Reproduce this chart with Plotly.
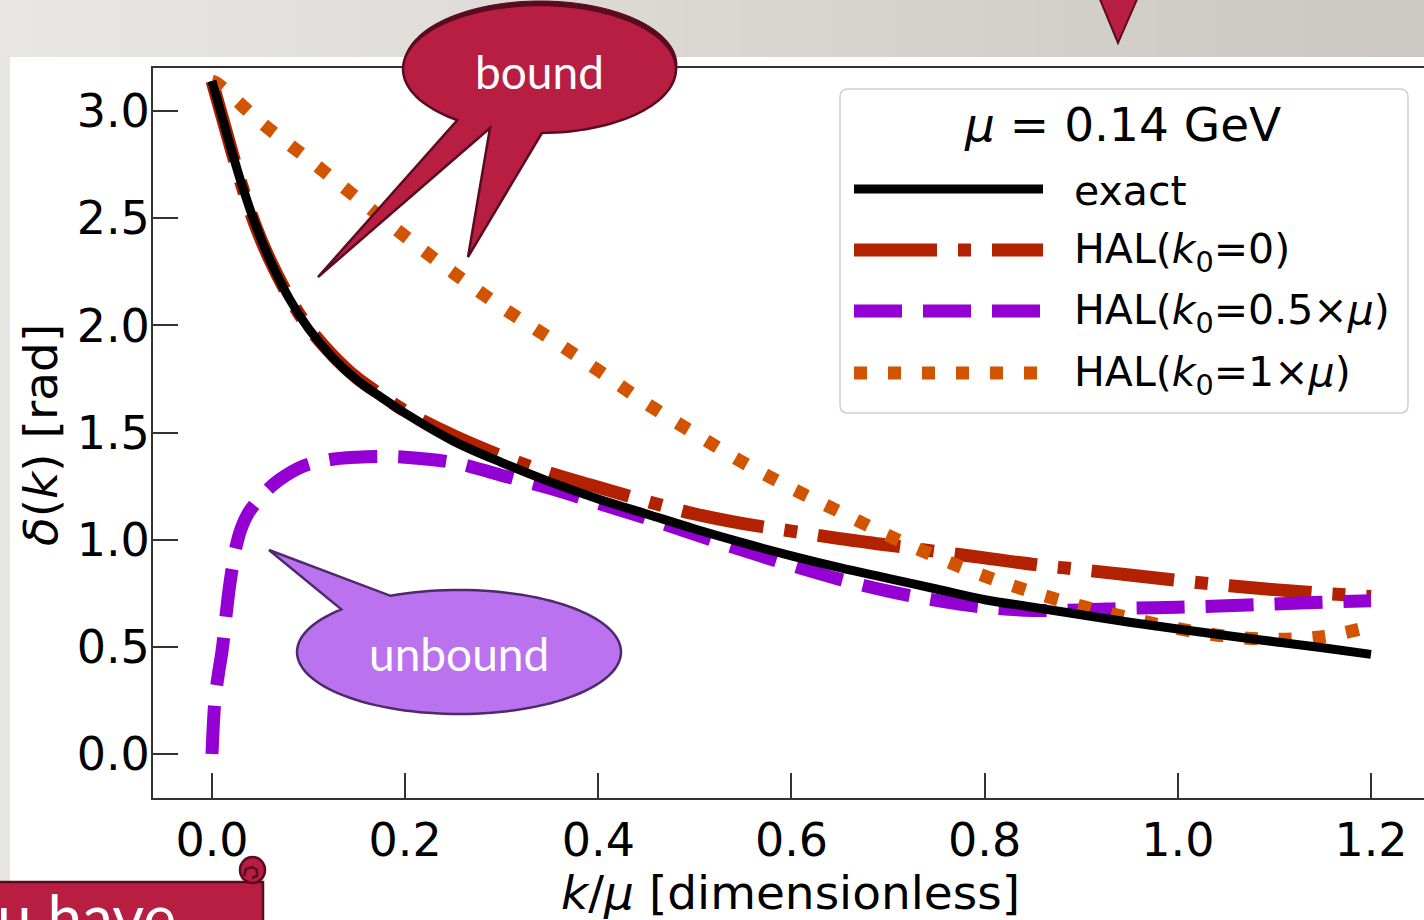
import numpy as np
import plotly.graph_objects as go

# ---------------------------------------------------------------
# Phase shift delta(k) [rad] versus k/mu, mu = 0.14 GeV
# ---------------------------------------------------------------
k_exact = [0, 0.005, 0.01, 0.02, 0.03, 0.045, 0.06, 0.08, 0.1, 0.125, 0.15, 0.175, 0.2,
           0.25, 0.3, 0.35, 0.4, 0.45, 0.5, 0.55, 0.6, 0.65, 0.7, 0.75, 0.8, 0.85, 0.9,
           0.95, 1.0, 1.05, 1.1, 1.15, 1.2]
delta_exact = [3.14, 3.06, 2.98, 2.82, 2.67, 2.47, 2.305, 2.125, 1.985, 1.85, 1.745, 1.665,
               1.59, 1.46, 1.36, 1.27, 1.19, 1.12, 1.05, 0.985, 0.925, 0.87, 0.82, 0.77, 0.72,
               0.685, 0.65, 0.615, 0.583, 0.553, 0.524, 0.496, 0.465]

k_hal0 = k_exact
delta_hal0 = [3.14, 3.06, 2.98, 2.82, 2.665, 2.465, 2.305, 2.13, 1.99, 1.86, 1.755, 1.675,
              1.60, 1.485, 1.39, 1.31, 1.245, 1.18, 1.12, 1.075, 1.04, 1.005, 0.975, 0.945,
              0.915, 0.885, 0.86, 0.835, 0.81, 0.787, 0.767, 0.75, 0.735]

k_hal05 = [0, 0.003, 0.0065, 0.0105, 0.014, 0.0176, 0.0212, 0.0248, 0.03, 0.037, 0.045, 0.058,
           0.07, 0.093, 0.12, 0.15, 0.175, 0.2, 0.25, 0.3, 0.35, 0.4, 0.45, 0.5, 0.55, 0.6,
           0.65, 0.7, 0.75, 0.8, 0.85, 0.9, 0.95, 1.0, 1.05, 1.1, 1.15, 1.2]
delta_hal05 = [0.0, 0.25, 0.37, 0.485, 0.625, 0.765, 0.875, 0.965, 1.05, 1.12, 1.17, 1.235,
               1.28, 1.34, 1.372, 1.385, 1.388, 1.385, 1.36, 1.30, 1.24, 1.17, 1.10, 1.025,
               0.95, 0.88, 0.815, 0.76, 0.717, 0.685, 0.67, 0.672, 0.68, 0.685, 0.692, 0.70,
               0.708, 0.715]

k_hal1 = [0, 0.005, 0.05, 0.1, 0.15, 0.2, 0.25, 0.3, 0.35, 0.4, 0.45, 0.5, 0.55, 0.6, 0.65,
          0.7, 0.75, 0.8, 0.85, 0.9, 0.95, 1.0, 1.05, 1.1, 1.15, 1.2]
delta_hal1 = [3.14, 3.13, 2.95, 2.775, 2.595, 2.415, 2.245, 2.085, 1.94, 1.79, 1.635, 1.495,
              1.36, 1.24, 1.13, 1.02, 0.92, 0.83, 0.755, 0.69, 0.635, 0.585, 0.55, 0.535,
              0.548, 0.595]

x_ticks = [0.0, 0.2, 0.4, 0.6, 0.8, 1.0, 1.2]
y_ticks = [0.0, 0.5, 1.0, 1.5, 2.0, 2.5, 3.0]

legend_title = "<i>μ</i> = 0.14 GeV"
series_names = ["exact", "HAL(<i>k</i><sub>0</sub>=0)",
                "HAL(<i>k</i><sub>0</sub>=0.5×<i>μ</i>)", "HAL(<i>k</i><sub>0</sub>=1×<i>μ</i>)"]

# ---------------------------------------------------------------
# Styles
# ---------------------------------------------------------------
C_BLACK = "#000000"
C_RED = "#B22200"
C_PURPLE = "#9400D3"
C_ORANGE = "#D35400"
DASH_DOT = "83px,21px,13px,21px"
DASH = "48px,21px"
DOT = "13px,21px"

CRIMSON = "#B71E42"
CRIMSON_DARK = "#5B0B1F"
LAVENDER = "#BB72EE"
LAVENDER_DARK = "#4D2A6B"

W, H = 1424, 920
ML, MR, MT, MB = 153, 0, 68, 122
PW, PH = W - ML - MR, H - MT - MB


def px(x):
    return (x - ML) / PW


def py(y):
    return (H - MB - y) / PH


def path_from(points, close=True):
    d = "M" + " L".join(f"{px(x):.5f},{py(y):.5f}" for x, y in points)
    return d + (" Z" if close else "")


def ellipse_arc(cx, cy, rx, ry, a0, a1, n=120):
    t = np.radians(np.linspace(a0, a1, n))
    return list(zip(cx + rx * np.cos(t), cy + ry * np.sin(t)))


fig = go.Figure()

# curves (exact drawn last so it sits on top)
fig.add_trace(go.Scatter(x=k_hal0, y=delta_hal0, mode="lines", line_shape="spline",
                         line=dict(color=C_RED, width=13, dash=DASH_DOT), showlegend=False))
fig.add_trace(go.Scatter(x=k_hal05, y=delta_hal05, mode="lines", line_shape="spline",
                         line=dict(color=C_PURPLE, width=13, dash=DASH), showlegend=False))
fig.add_trace(go.Scatter(x=k_hal1, y=delta_hal1, mode="lines", line_shape="spline",
                         line=dict(color=C_ORANGE, width=13, dash=DOT), showlegend=False))
fig.add_trace(go.Scatter(x=k_exact, y=delta_exact, mode="lines", line_shape="spline",
                         line=dict(color=C_BLACK, width=9), showlegend=False))

shapes = []
annotations = []

# slide background: grey header band with a horizontal gradient, grey left strip
n_strips = 48
c0 = np.array([233, 231, 228])
c1 = np.array([204, 200, 195])
for i in range(n_strips):
    f = i / (n_strips - 1)
    c = (c0 * (1 - f) + c1 * f).astype(int)
    x0 = i * W / n_strips
    x1 = (i + 1) * W / n_strips + 1
    shapes.append(dict(type="rect", xref="paper", yref="paper", layer="below",
                       x0=px(x0), x1=px(x1), y0=py(57), y1=py(-2),
                       fillcolor=f"rgb({c[0]},{c[1]},{c[2]})", line=dict(width=0)))
shapes.append(dict(type="rect", xref="paper", yref="paper", layer="below",
                   x0=px(-2), x1=px(10), y0=py(925), y1=py(56),
                   fillcolor="rgb(232,230,227)", line=dict(width=0)))

# legend box
lx0, ly0, lx1, ly1, r = 840, 89, 1408, 413, 8
legend_box = (f"M{px(lx0 + r)},{py(ly0)} L{px(lx1 - r)},{py(ly0)} "
              f"Q{px(lx1)},{py(ly0)} {px(lx1)},{py(ly0 + r)} L{px(lx1)},{py(ly1 - r)} "
              f"Q{px(lx1)},{py(ly1)} {px(lx1 - r)},{py(ly1)} L{px(lx0 + r)},{py(ly1)} "
              f"Q{px(lx0)},{py(ly1)} {px(lx0)},{py(ly1 - r)} L{px(lx0)},{py(ly0 + r)} "
              f"Q{px(lx0)},{py(ly0)} {px(lx0 + r)},{py(ly0)} Z")
shapes.append(dict(type="path", xref="paper", yref="paper", layer="above", path=legend_box,
                   fillcolor="rgba(255,255,255,0.85)", line=dict(color="#D0D0D0", width=1.5)))

legend_rows = [189, 250, 311, 373]
legend_styles = [(C_BLACK, 9, "solid"), (C_RED, 13, DASH_DOT),
                 (C_PURPLE, 13, DASH), (C_ORANGE, 13, DOT)]
for yrow, (col, wdt, dsh), name in zip(legend_rows, legend_styles, series_names):
    shapes.append(dict(type="line", xref="paper", yref="paper", layer="above",
                       x0=px(854), x1=px(1043), y0=py(yrow), y1=py(yrow),
                       line=dict(color=col, width=wdt, dash=dsh)))
    annotations.append(dict(xref="paper", yref="paper", x=px(1072), y=py(yrow + 2),
                            xanchor="left", yanchor="middle", showarrow=False, text=name,
                            font=dict(family="DejaVu Sans", size=41, color="black")))
annotations.append(dict(xref="paper", yref="paper", x=px(1122), y=py(125),
                        xanchor="center", yanchor="middle", showarrow=False, text=legend_title,
                        font=dict(family="DejaVu Sans", size=47, color="black")))

# axis titles
annotations.append(dict(xref="paper", yref="paper", x=px(790), y=py(892),
                        xanchor="center", yanchor="middle", showarrow=False,
                        text="<i>k</i>/<i>μ</i> [dimensionless]",
                        font=dict(family="DejaVu Sans", size=47, color="black")))
annotations.append(dict(xref="paper", yref="paper", x=px(40), y=py(435),
                        xanchor="center", yanchor="middle", showarrow=False, textangle=-90,
                        text="<i>δ</i>(<i>k</i>) [rad]",
                        font=dict(family="DejaVu Sans", size=47, color="black")))

# "bound" callout (shadow first, then the bubble)
b_cx, b_cy, b_rx, b_ry = 539.5, 69, 136.5, 64
b_arc = ellipse_arc(b_cx, b_cy, b_rx, b_ry, 127, 449)
b_tail = [(468, 257), (490, 128), (318, 277)]
b_pts = b_arc + b_tail
shapes.append(dict(type="path", xref="paper", yref="paper", layer="above",
                   path=path_from([(x + 1, y - 4) for x, y in b_arc]),
                   fillcolor=CRIMSON_DARK, line=dict(color=CRIMSON_DARK, width=1)))
shapes.append(dict(type="path", xref="paper", yref="paper", layer="above",
                   path=path_from(b_pts), fillcolor=CRIMSON,
                   line=dict(color=CRIMSON_DARK, width=2.5)))
annotations.append(dict(xref="paper", yref="paper", x=px(539), y=py(71),
                        xanchor="center", yanchor="middle", showarrow=False, text="bound",
                        font=dict(family="Lato", size=46, color="white")))

# "unbound" callout
u_arc = ellipse_arc(459, 652, 162, 62, -115, 223.4)
u_pts = u_arc + [(269, 550)]
shapes.append(dict(type="path", xref="paper", yref="paper", layer="above",
                   path=path_from(u_pts), fillcolor=LAVENDER,
                   line=dict(color=LAVENDER_DARK, width=2.5)))
annotations.append(dict(xref="paper", yref="paper", x=px(459), y=py(653),
                        xanchor="center", yanchor="middle", showarrow=False, text="unbound",
                        font=dict(family="Lato", size=46, color="white")))

# pointer triangle at the top
shapes.append(dict(type="path", xref="paper", yref="paper", layer="above",
                   path=path_from([(1099, -3), (1138, -3), (1118, 43)]),
                   fillcolor=CRIMSON, line=dict(color=CRIMSON_DARK, width=2)))

# scroll banner in the lower left corner
shapes.append(dict(type="path", xref="paper", yref="paper", layer="above",
                   path=path_from([(-5, 882), (263, 882), (263, 930), (-5, 930)]),
                   fillcolor=CRIMSON, line=dict(color=CRIMSON_DARK, width=2.5)))
shapes.append(dict(type="circle", xref="paper", yref="paper", layer="above",
                   x0=px(240), x1=px(265), y0=py(883), y1=py(857),
                   fillcolor=CRIMSON, line=dict(color=CRIMSON_DARK, width=2.5)))
shapes.append(dict(type="path", xref="paper", yref="paper", layer="above",
                   path=path_from([(244, 876), (246, 869), (252, 867), (257, 870), (257, 876),
                                   (252, 878)], close=False),
                   line=dict(color=CRIMSON_DARK, width=2.5)))
annotations.append(dict(xref="paper", yref="paper", x=px(178), y=py(916),
                        xanchor="right", yanchor="middle", showarrow=False, text="u have",
                        font=dict(family="Lato", size=62, color="white")))

axis_font = dict(family="DejaVu Sans", size=46, color="black")
fig.update_layout(
    width=W, height=H, autosize=False,
    margin=dict(l=ML, r=MR, t=MT, b=MB, pad=0),
    paper_bgcolor="white", plot_bgcolor="white",
    showlegend=False,
    shapes=shapes, annotations=annotations,
    xaxis=dict(range=[-0.0611, 1.2549], tickvals=x_ticks, ticktext=[f"{v:.1f}" for v in x_ticks],
               ticks="inside", ticklen=25, tickwidth=2, tickcolor="#333333",
               showline=True, linecolor="#333333", linewidth=2, mirror=True,
               showgrid=False, zeroline=False, tickfont=axis_font, ticklabelstandoff=1),
    yaxis=dict(range=[-0.2053, 3.2011], tickvals=y_ticks, ticktext=[f"{v:.1f}" for v in y_ticks],
               ticks="inside", ticklen=25, tickwidth=2, tickcolor="#333333",
               showline=True, linecolor="#333333", linewidth=2, mirror=False,
               showgrid=False, zeroline=False, tickfont=axis_font, ticklabelstandoff=-8),
)

fig.write_html("out.html")
